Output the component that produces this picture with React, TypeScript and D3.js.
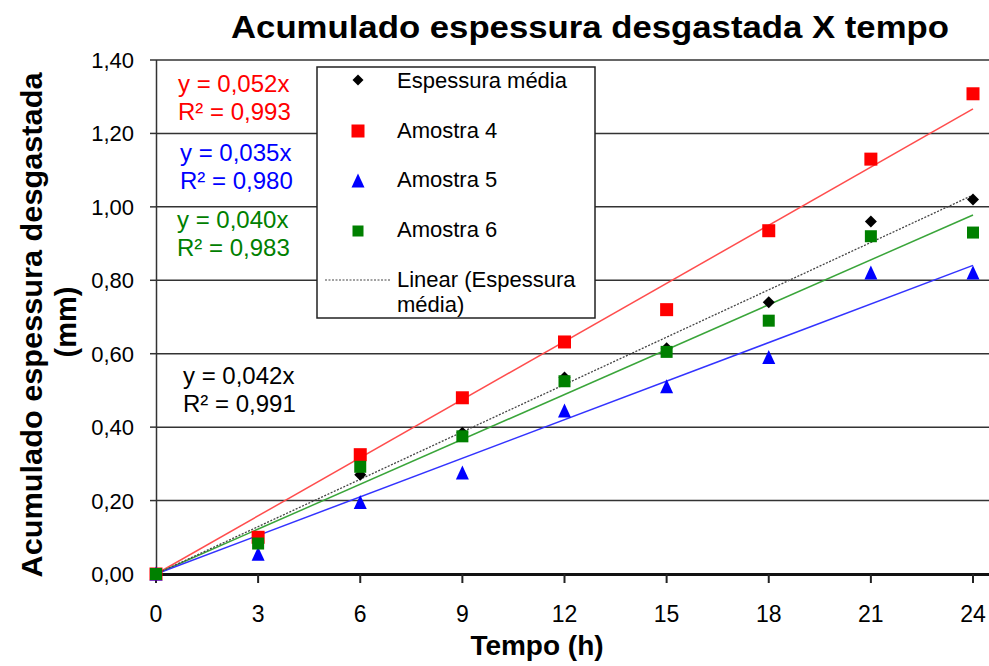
import React, { useEffect } from 'react';
import * as d3 from 'd3';

// hours
const tempo = [0, 3, 6, 9, 12, 15, 18, 21, 24];
const mediaVals = [0, 0.09, 0.27, 0.385, 0.535, 0.615, 0.74, 0.96, 1.02];
const amostra4 = [0, 0.10, 0.325, 0.48, 0.632, 0.72, 0.935, 1.13, 1.308];
const amostra5 = [0, 0.054, 0.195, 0.275, 0.444, 0.51, 0.59, 0.82, 0.82];
const amostra6 = [0, 0.083, 0.292, 0.375, 0.525, 0.605, 0.69, 0.92, 0.93];

const yTicks = [0, 0.2, 0.4, 0.6, 0.8, 1.0, 1.2, 1.4];
const xTicks = [0, 3, 6, 9, 12, 15, 18, 21, 24];

const eqLabels = [
  { eq: 'y = 0,052x', r2: 'R² = 0,993', color: '#ff0000', x: 178, y: 92 },
  { eq: 'y = 0,035x', r2: 'R² = 0,980', color: '#0000ff', x: 180, y: 161 },
  { eq: 'y = 0,040x', r2: 'R² = 0,983', color: '#008000', x: 177, y: 228 },
  { eq: 'y = 0,042x', r2: 'R² = 0,991', color: '#000000', x: 183, y: 384 },
];

const W = 989;
const H = 666;
const FONT = 'Liberation Sans, Arial, sans-serif';

// least squares through the origin, like excel's "intercept = 0" trendline
const fitSlope = (ys: number[]) =>
  d3.sum(tempo, (t, i) => t * ys[i]) / d3.sum(tempo, t => t * t);

export default function App() {
  useEffect(() => {
    document.body.style.margin = '0';
  }, []);

  const x = d3.scaleLinear().domain([0, 24]).range([156, 973]);
  const y = d3.scaleLinear().domain([0, 1.4]).range([574, 60]);
  const fmt = (v: number) => v.toFixed(2).replace('.', ',');

  const trend = (ys: number[]) => {
    const k = fitSlope(ys);
    return d3.line<number>().x(t => x(t)).y(t => y(k * t))([0, 24]) as string;
  };

  const sq = (cx: number, cy: number, s: number, fill: string, key: string) => (
    <rect key={key} x={cx - s / 2} y={cy - s / 2} width={s} height={s} fill={fill} />
  );
  const tri = (cx: number, cy: number, s: number, key: string) => (
    <path key={key} d={`M${cx},${cy - s / 2 - 1}L${cx + s / 2},${cy + s / 2}L${cx - s / 2},${cy + s / 2}Z`} fill="#0000ff" />
  );
  const dia = (cx: number, cy: number, s: number, key: string) => (
    <path key={key} d={`M${cx},${cy - s / 2}L${cx + s / 2},${cy}L${cx},${cy + s / 2}L${cx - s / 2},${cy}Z`} fill="#000" />
  );

  return (
    <svg width={W} height={H} style={{ display: 'block', background: '#fff' }} fontFamily={FONT}>
      {/* title */}
      <text x={590} y={38} textAnchor="middle" fontSize={32} fontWeight="bold"
        textLength={718} lengthAdjust="spacingAndGlyphs">
        Acumulado espessura desgastada X tempo
      </text>

      {/* grid */}
      {yTicks.map(t => (
        <g key={'g' + t}>
          {t > 0 && <line x1={156} x2={989} y1={y(t)} y2={y(t)} stroke="#333" strokeWidth={1.5} />}
          <line x1={150} x2={156} y1={y(t)} y2={y(t)} stroke="#333" strokeWidth={1.5} />
          <text x={134} y={y(t) + 8} textAnchor="end" fontSize={22}>{fmt(t)}</text>
        </g>
      ))}
      <line x1={156.5} x2={156.5} y1={60} y2={574} stroke="#333" strokeWidth={1.5} />
      <line x1={156} x2={989} y1={574.5} y2={574.5} stroke="#111" strokeWidth={3} />
      {xTicks.map(t => (
        <g key={'x' + t}>
          <line x1={x(t)} x2={x(t)} y1={574} y2={583} stroke="#222" strokeWidth={2} />
          <text x={x(t)} y={622} textAnchor="middle" fontSize={23}>{t}</text>
        </g>
      ))}

      {/* axis titles */}
      <text x={537} y={655} textAnchor="middle" fontSize={28} fontWeight="bold">Tempo (h)</text>
      <text transform="translate(42,325) rotate(-90)" textAnchor="middle" fontSize={30} fontWeight="bold"
        textLength={505} lengthAdjust="spacingAndGlyphs">
        Acumulado espessura desgastada
      </text>
      <text transform="translate(76,322) rotate(-90)" textAnchor="middle" fontSize={29} fontWeight="bold">
        (mm)
      </text>

      {/* trend lines */}
      <path d={trend(amostra4)} stroke="#ff4d4d" strokeWidth={1.5} fill="none" />
      <path d={trend(amostra6)} stroke="#3aa53a" strokeWidth={1.5} fill="none" />
      <path d={trend(amostra5)} stroke="#3333ff" strokeWidth={1.5} fill="none" />
      <path d={trend(mediaVals)} stroke="#444" strokeWidth={1.3} strokeDasharray="2,1.5" fill="none" />

      {/* markers */}
      {tempo.map((t, i) => dia(x(t), y(mediaVals[i]), 12, 'd' + i))}
      {tempo.map((t, i) => sq(x(t), y(amostra4[i]), 13, '#ff0000', 'r' + i))}
      {tempo.map((t, i) => tri(x(t), y(amostra5[i]), 13, 'b' + i))}
      {tempo.map((t, i) => sq(x(t), y(amostra6[i]), 12, '#008000', 'gr' + i))}

      {/* equation labels */}
      {eqLabels.map(l => (
        <g key={l.eq} fill={l.color} fontSize={24}>
          <text x={l.x} y={l.y}>{l.eq}</text>
          <text x={l.x} y={l.y + 28}>{l.r2}</text>
        </g>
      ))}

      {/* legend */}
      <rect x={317} y={67} width={278} height={251} fill="#fff" stroke="#222" strokeWidth={1.5} />
      {dia(358, 80, 11, 'ld')}
      {sq(358, 131, 13, '#ff0000', 'l4')}
      {tri(358, 181, 13, 'l5')}
      {sq(358, 231, 11, '#008000', 'l6')}
      <line x1={325} x2={391} y1={280} y2={280} stroke="#444" strokeWidth={1} strokeDasharray="2,1.5" />
      <g fontSize={22}>
        <text x={397} y={88}>Espessura média</text>
        <text x={397} y={138}>Amostra 4</text>
        <text x={397} y={187}>Amostra 5</text>
        <text x={397} y={237}>Amostra 6</text>
        <text x={397} y={287}>Linear (Espessura</text>
        <text x={397} y={312}>média)</text>
      </g>
    </svg>
  );
}
